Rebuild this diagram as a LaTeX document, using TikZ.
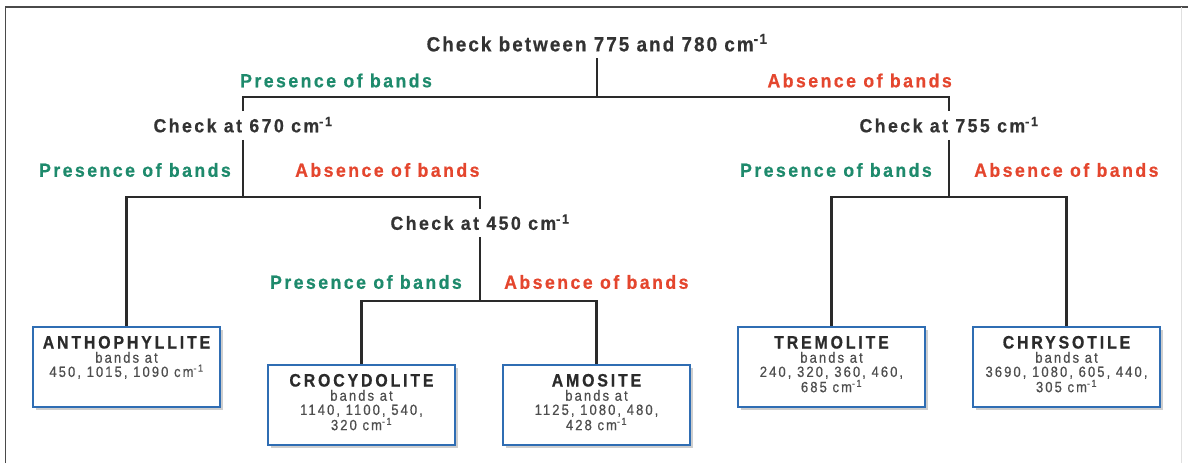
\documentclass[tikz,border=0pt]{standalone}
\usepackage{fontspec}
\setmainfont{Liberation Sans}
\newfontfamily\lblfont{Liberation Sans}[LetterSpace=13, FakeStretch=0.93, BoldFeatures={FakeBold=0.6}]
\newfontfamily\topfont{Liberation Sans}[LetterSpace=10, FakeStretch=0.92, BoldFeatures={FakeBold=0.6}]
\newfontfamily\boxfont{Liberation Sans}[LetterSpace=14, FakeStretch=0.88, UprightFeatures={FakeBold=0.45}, BoldFeatures={FakeBold=0.5}]
\newfontfamily\titlefont{Liberation Sans}[LetterSpace=16, FakeStretch=0.88, BoldFeatures={FakeBold=0.8}]
\usetikzlibrary{shadows}
\definecolor{txtdark}{HTML}{333333}
\definecolor{pgreen}{HTML}{1E8A6C}
\definecolor{ared}{HTML}{E4462E}
\definecolor{linec}{HTML}{2A2A2A}
\definecolor{boxblue}{HTML}{2F6DB3}
\definecolor{bodygray}{HTML}{4E4E4E}
\definecolor{titlec}{HTML}{2B2B2B}
\definecolor{framec}{HTML}{4A4A4A}
\newcommand\wn{cm\textsuperscript{-1}}
\newcommand\mtitle[1]{\textcolor{titlec}{\titlefont\bfseries\fontsize{18}{19}\selectfont #1}}
\begin{document}
\begin{tikzpicture}[x=1pt,y=-1pt,
  check/.style={font=\lblfont\bfseries\fontsize{19}{20}\selectfont, text=txtdark,
    text height=13.6pt, text depth=0pt, inner xsep=2pt, inner ysep=7.3pt},
  pres/.style={font=\lblfont\bfseries\fontsize{19}{20}\selectfont, text=pgreen,
    text height=13.6pt, text depth=0pt, inner sep=0pt},
  abs/.style={font=\lblfont\bfseries\fontsize{19}{20}\selectfont, text=ared,
    text height=13.6pt, text depth=0pt, inner sep=0pt},
  conn/.style={draw=linec, line width=2.3pt},
  mineral/.style={draw=boxblue, line width=2.5pt, fill=white, minimum width=187pt,
    minimum height=80pt, inner sep=0pt,
    drop shadow={shadow xshift=2.5pt, shadow yshift=-2.5pt, opacity=0.35, fill=black!55}},
  mintext/.style={anchor=north, align=center, inner sep=0pt, yshift=-10pt,
    font=\boxfont\fontsize{14.8}{14.2}\selectfont, text=bodygray}
]
\useasboundingbox (0,0) rectangle (1188,463);
% frame
\draw[framec, line width=1.6pt] (5.5,463) -- (5.5,7) -- (1188,7);
\draw[black!12, line width=0.8pt] (1181,7) -- (1181,463);

% coordinates for horizontal levels
\coordinate (h1) at (0,97);
\coordinate (h2) at (0,197);
\coordinate (h3) at (0,301);

% decision labels
\node[check, font=\topfont\bfseries\fontsize{20.5}{22}\selectfont, text height=14.7pt, inner ysep=6.5pt] (T) at (597,44) {Check between 775 and 780 \wn};
\node[check] (C670) at (243,125.5) {Check at 670 \wn};
\node[check] (C755) at (949,125.5) {Check at 755 \wn};
\node[check] (C450) at (480,223) {Check at 450 \wn};

% branch labels
\node[pres, anchor=west] (P1) at (240,80.5) {Presence of bands};
\node[abs, anchor=east] (A1) at (952,80.5) {Absence of bands};
\node[pres, anchor=east] (P2) at (231,170) {Presence of bands};
\node[abs, anchor=west] (A2) at (295,170) {Absence of bands};
\node[pres, anchor=east] (P4) at (932,170) {Presence of bands};
\node[abs, anchor=west] (A4) at (974,170) {Absence of bands};
\node[pres, anchor=east] (P3) at (462,282) {Presence of bands};
\node[abs, anchor=west] (A3) at (504,282) {Absence of bands};

% mineral boxes
\node[mineral] (antho) at (126.5,367) {};
\node[mineral] (croc) at (361.5,405) {};
\node[mineral] (amos) at (596.5,405) {};
\node[mineral] (trem) at (831.5,367) {};
\node[mineral] (chry) at (1066.5,367) {};

\node[mintext] (anthoT) at (antho.north) {\mtitle{ANTHOPHYLLITE}\\bands at\\450, 1015, 1090 \wn};
\node[mintext] (crocT) at (croc.north) {\mtitle{CROCYDOLITE}\\bands at\\1140, 1100, 540,\\320 \wn};
\node[mintext] (amosT) at (amos.north) {\mtitle{AMOSITE}\\bands at\\1125, 1080, 480,\\428 \wn};
\node[mintext] (tremT) at (trem.north) {\mtitle{TREMOLITE}\\bands at\\240, 320, 360, 460,\\685 \wn};
\node[mintext] (chryT) at (chry.north) {\mtitle{CHRYSOTILE}\\bands at\\3690, 1080, 605, 440,\\305 \wn};

% connectors
\draw[conn] (T.south) -- (T.south |- h1);
\draw[conn] (C670.north) -- (C670.north |- h1) -| (C755.north);
\draw[conn] (C670.south) -- (C670.south |- h2);
\draw[conn] (antho.north) -- (antho.north |- h2) -| (C450.north);
\draw[conn] (C450.south) -- (C450.south |- h3);
\draw[conn] (croc.north) -- (croc.north |- h3) -| (amos.north);
\draw[conn] (C755.south) -- (C755.south |- h2);
\draw[conn] (trem.north) -- (trem.north |- h2) -| (chry.north);
\end{tikzpicture}
\end{document}
